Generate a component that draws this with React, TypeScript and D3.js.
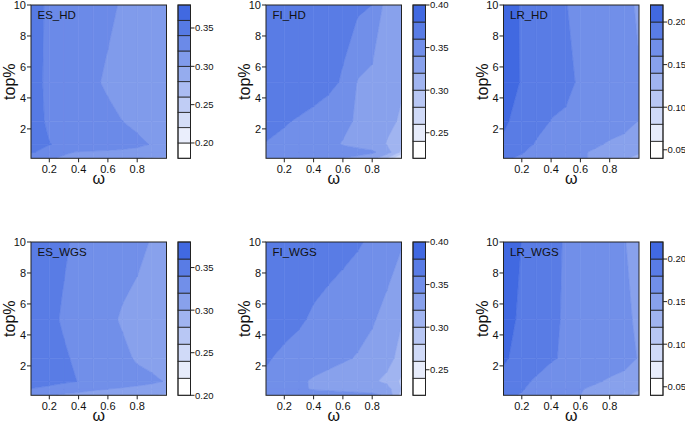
import React from 'react';
import * as d3 from 'd3';

// grid: columns = omega, rows = top% (from 0.1 up to 10)
const omega = [0.075, 0.2, 0.3, 0.4, 0.5, 0.6, 0.7, 0.8, 0.9, 1.0];
const topPct = [0.1, 0.5, 1, 2.5, 5, 10];

const xTicks = [0.2, 0.4, 0.6, 0.8];
const yTicks = [2, 4, 6, 8, 10];

// values[rowIndex][colIndex], rowIndex follows topPct
const esHD = [
  [0.328, 0.322, 0.318, 0.316, 0.314, 0.305, 0.302, 0.300, 0.298, 0.296],
  [0.342, 0.334, 0.322, 0.319, 0.318, 0.317, 0.316, 0.315, 0.313, 0.312],
  [0.350, 0.3405, 0.337, 0.335, 0.333, 0.331, 0.328, 0.324, 0.319, 0.316],
  [0.348, 0.337, 0.335, 0.333, 0.329, 0.325, 0.320, 0.316, 0.313, 0.311],
  [0.347, 0.336, 0.334, 0.330, 0.323, 0.317, 0.314, 0.312, 0.310, 0.308],
  [0.352, 0.335, 0.333, 0.332, 0.329, 0.324, 0.318, 0.314, 0.311, 0.309],
];
const fiHD = [
  [0.350, 0.348, 0.346, 0.344, 0.342, 0.340, 0.336, 0.330, 0.300, 0.250],
  [0.357, 0.355, 0.353, 0.352, 0.350, 0.348, 0.346, 0.343, 0.330, 0.295],
  [0.359, 0.355, 0.352, 0.348, 0.344, 0.339, 0.335, 0.331, 0.319, 0.305],
  [0.368, 0.362, 0.358, 0.354, 0.350, 0.344, 0.338, 0.333, 0.324, 0.318],
  [0.378, 0.376, 0.374, 0.370, 0.365, 0.358, 0.339, 0.334, 0.330, 0.322],
  [0.375, 0.374, 0.373, 0.372, 0.370, 0.367, 0.364, 0.360, 0.332, 0.326],
];
const lrHD = [
  [0.182, 0.178, 0.174, 0.170, 0.166, 0.162, 0.158, 0.154, 0.146, 0.125],
  [0.190, 0.181, 0.176, 0.172, 0.168, 0.162, 0.158, 0.155, 0.152, 0.146],
  [0.197, 0.188, 0.178, 0.175, 0.172, 0.169, 0.1625, 0.158, 0.155, 0.150],
  [0.203, 0.193, 0.187, 0.1795, 0.178, 0.175, 0.172, 0.169, 0.166, 0.1595],
  [0.207, 0.199, 0.194, 0.188, 0.1835, 0.178, 0.174, 0.170, 0.166, 0.161],
  [0.206, 0.199, 0.195, 0.191, 0.1805, 0.176, 0.172, 0.168, 0.164, 0.158],
];
const esWGS = [
  [0.330, 0.322, 0.318, 0.316, 0.314, 0.312, 0.310, 0.306, 0.302, 0.296],
  [0.339, 0.334, 0.328, 0.325, 0.322, 0.320, 0.318, 0.316, 0.314, 0.310],
  [0.353, 0.348, 0.344, 0.3395, 0.336, 0.332, 0.329, 0.326, 0.323, 0.319],
  [0.352, 0.346, 0.342, 0.337, 0.333, 0.328, 0.324, 0.318, 0.315, 0.312],
  [0.350, 0.344, 0.338, 0.335, 0.330, 0.324, 0.318, 0.315, 0.312, 0.310],
  [0.352, 0.347, 0.342, 0.337, 0.334, 0.331, 0.328, 0.324, 0.319, 0.315],
];
const fiWGS = [
  [0.352, 0.350, 0.348, 0.347, 0.346, 0.345, 0.344, 0.343, 0.338, 0.290],
  [0.353, 0.347, 0.342, 0.339, 0.338, 0.337, 0.336, 0.335, 0.328, 0.300],
  [0.357, 0.350, 0.343, 0.338, 0.335, 0.332, 0.328, 0.323, 0.316, 0.296],
  [0.362, 0.356, 0.352, 0.348, 0.345, 0.342, 0.339, 0.334, 0.326, 0.314],
  [0.372, 0.367, 0.363, 0.357, 0.353, 0.349, 0.346, 0.342, 0.334, 0.321],
  [0.378, 0.376, 0.374, 0.372, 0.369, 0.366, 0.362, 0.357, 0.350, 0.342],
];
const lrWGS = [
  [0.183, 0.179, 0.174, 0.170, 0.165, 0.160, 0.156, 0.152, 0.146, 0.128],
  [0.188, 0.181, 0.176, 0.172, 0.167, 0.161, 0.157, 0.154, 0.150, 0.143],
  [0.196, 0.185, 0.177, 0.174, 0.171, 0.168, 0.162, 0.158, 0.155, 0.150],
  [0.202, 0.195, 0.190, 0.1815, 0.178, 0.175, 0.172, 0.169, 0.166, 0.159],
  [0.206, 0.197, 0.192, 0.185, 0.177, 0.174, 0.171, 0.168, 0.1635, 0.157],
  [0.206, 0.1998, 0.193, 0.186, 0.178, 0.175, 0.172, 0.168, 0.1605, 0.156],
];

const levelsES_HD = [0.18, 0.20, 0.22, 0.24, 0.26, 0.28, 0.30, 0.32, 0.34, 0.36, 0.38];
const levelsFI = [0.22, 0.24, 0.26, 0.28, 0.30, 0.32, 0.34, 0.36, 0.38, 0.40];
const levelsLR = [0.04, 0.06, 0.08, 0.10, 0.12, 0.14, 0.16, 0.18, 0.20, 0.22];
const levelsES_WGS = [0.20, 0.22, 0.24, 0.26, 0.28, 0.30, 0.32, 0.34, 0.36, 0.38];

const keyTicksES = [0.20, 0.25, 0.30, 0.35];
const keyTicksFI = [0.25, 0.30, 0.35, 0.40];
const keyTicksLR = [0.05, 0.10, 0.15, 0.20];

const panelNames = ['ES_HD', 'FI_HD', 'LR_HD', 'ES_WGS', 'FI_WGS', 'LR_WGS'];
const panelValues = [esHD, fiHD, lrHD, esWGS, fiWGS, lrWGS];
const panelLevels = [levelsES_HD, levelsFI, levelsLR, levelsES_WGS, levelsFI, levelsLR];
const panelKeyTicks = [keyTicksES, keyTicksFI, keyTicksLR, keyTicksES, keyTicksFI, keyTicksLR];

const FONT = '"Liberation Sans", Arial, Helvetica, sans-serif';
const colLefts = [31, 266, 503.5];
const rowTops = [5, 242];
const PW = 135.5;
const PH = 153.3;
const KEY_GAP = 11.5;
const KEY_W = 12.5;

type P = [number, number];

function bandPolygons(z: number[][], lo: number, hi: number): P[][] {
  const polys: P[][] = [];
  const inside = (v: number) => v >= lo && v <= hi;
  for (let j = 0; j < topPct.length - 1; j++) {
    for (let i = 0; i < omega.length - 1; i++) {
      const c: [number, number, number][] = [
        [omega[i], topPct[j], z[j][i]],
        [omega[i + 1], topPct[j], z[j][i + 1]],
        [omega[i + 1], topPct[j + 1], z[j + 1][i + 1]],
        [omega[i], topPct[j + 1], z[j + 1][i]],
      ];
      const poly: P[] = [];
      for (let k = 0; k < 4; k++) {
        const a = c[k];
        const b = c[(k + 1) % 4];
        if (inside(a[2])) poly.push([a[0], a[1]]);
        const ts: number[] = [];
        for (const L of [lo, hi]) {
          if ((a[2] - L) * (b[2] - L) < 0) ts.push((L - a[2]) / (b[2] - a[2]));
        }
        ts.sort((p, q) => p - q);
        for (const t of ts) poly.push([a[0] + t * (b[0] - a[0]), a[1] + t * (b[1] - a[1])]);
      }
      if (poly.length >= 3) polys.push(poly);
    }
  }
  return polys;
}

function Panel({ idx }: { idx: number }) {
  const col = idx % 3;
  const row = Math.floor(idx / 3);
  const left = colLefts[col];
  const top = rowTops[row];
  const z = panelValues[idx];
  const levels = panelLevels[idx];
  const nb = levels.length - 1;
  const color = (k: number) => d3.interpolateRgb('white', 'royalblue')(k / (nb - 1));
  const x = d3.scaleLinear().domain([omega[0], omega[omega.length - 1]]).range([left, left + PW]);
  const y = d3.scaleLinear().domain([topPct[0], topPct[topPct.length - 1]]).range([top + PH, top]);
  const line = d3.line<P>().x((p) => x(p[0])).y((p) => y(p[1]));
  const keyLeft = left + PW + KEY_GAP;
  const ky = d3.scaleLinear().domain([levels[0], levels[nb]]).range([top + PH, top]);

  const bands: React.ReactNode[] = [];
  for (let k = 0; k < nb; k++) {
    const polys = bandPolygons(z, levels[k], levels[k + 1]);
    const c = color(k);
    polys.forEach((poly, pi) => {
      bands.push(
        <path key={`b${k}_${pi}`} d={(line(poly) || '') + 'Z'} fill={c} stroke={c} strokeWidth={0.6} strokeLinejoin="round" />
      );
    });
  }

  return (
    <g>
      <defs>
        <clipPath id={`clip${idx}`}>
          <rect x={left} y={top} width={PW} height={PH} />
        </clipPath>
      </defs>
      <g clipPath={`url(#clip${idx})`}>{bands}</g>
      <rect x={left} y={top} width={PW} height={PH} fill="none" stroke="#222" strokeWidth={1} />
      <text x={left + 6.5} y={top + 13.5} fontSize={11.5} fontFamily={FONT} fill="#111">{panelNames[idx]}</text>
      {xTicks.map((t) => (
        <g key={`xt${t}`}>
          <line x1={x(t)} x2={x(t)} y1={top + PH} y2={top + PH + 4} stroke="#222" />
          <text x={x(t)} y={top + PH + 14.5} fontSize={11} fontFamily={FONT} textAnchor="middle" fill="#111">{t.toFixed(1)}</text>
        </g>
      ))}
      <text x={left + PW / 2} y={top + PH + 25.5} fontSize={16} fontFamily={FONT} textAnchor="middle" fill="#111">ω</text>
      {yTicks.map((t) => (
        <g key={`yt${t}`}>
          <line x1={left - 4} x2={left} y1={y(t)} y2={y(t)} stroke="#222" />
          <text x={left - 5} y={y(t)} dy="0.36em" fontSize={11} fontFamily={FONT} textAnchor="end" fill="#111">{t}</text>
        </g>
      ))}
      <text transform={`translate(${left - 16},${top + PH / 2}) rotate(-90)`} fontSize={16} fontFamily={FONT} textAnchor="middle" fill="#111">top%</text>
      {d3.range(nb).map((k) => (
        <rect key={`k${k}`} x={keyLeft} y={ky(levels[k + 1])} width={KEY_W} height={ky(levels[k]) - ky(levels[k + 1])} fill={color(k)} stroke="#222" strokeWidth={0.8} />
      ))}
      <rect x={keyLeft} y={top} width={KEY_W} height={PH} fill="none" stroke="#222" strokeWidth={1} />
      {panelKeyTicks[idx].map((t) => (
        <g key={`kt${t}`}>
          <line x1={keyLeft + KEY_W} x2={keyLeft + KEY_W + 4} y1={ky(t)} y2={ky(t)} stroke="#222" />
          <text x={keyLeft + KEY_W + 4.5} y={ky(t)} dy="0.36em" fontSize={9.5} fontFamily={FONT} fill="#111">{t.toFixed(2)}</text>
        </g>
      ))}
    </g>
  );
}

export default function App() {
  return (
    <svg width={685} height={422} style={{ position: 'absolute', left: 0, top: 0, background: 'white' }}>
      <rect x={0} y={0} width={685} height={422} fill="white" />
      {panelNames.map((_, i) => (
        <Panel key={i} idx={i} />
      ))}
    </svg>
  );
}
